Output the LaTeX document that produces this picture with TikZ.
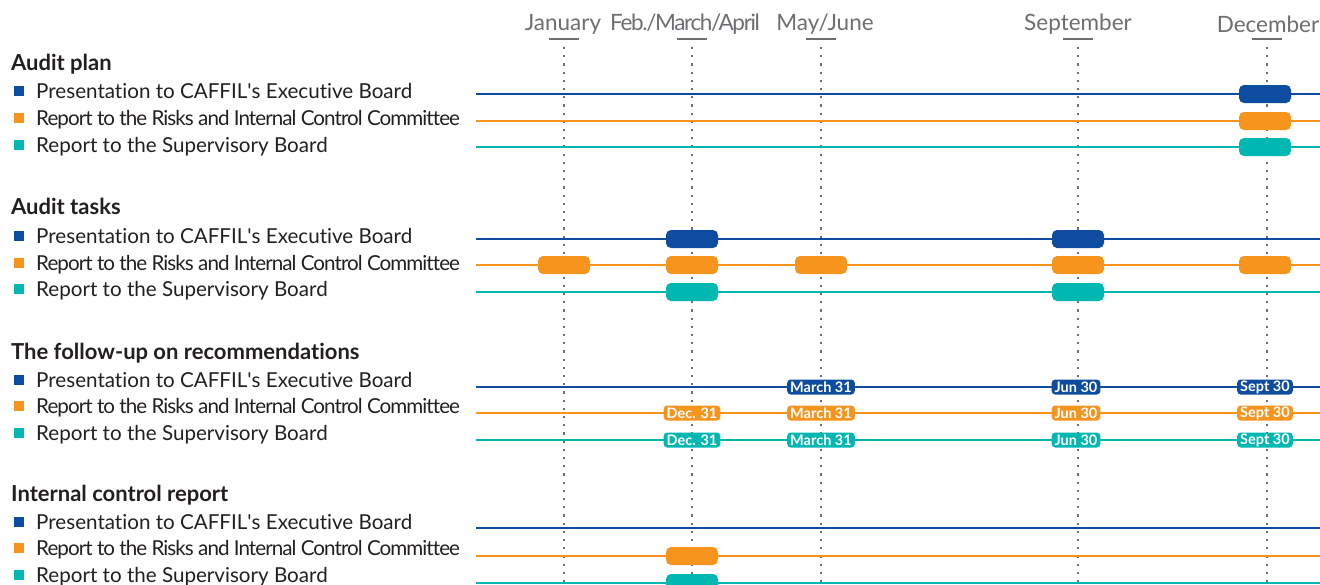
\documentclass[tikz,border=0pt]{standalone}
\usepackage{fontspec}
\setmainfont{Lato}[Ligatures={NoCommon}]
\definecolor{cblue}{HTML}{0D4C9E}
\definecolor{corange}{HTML}{F7941E}
\definecolor{cteal}{HTML}{00B7B2}
\definecolor{cgrid}{HTML}{6D6E71}
\definecolor{ctext}{HTML}{231F20}
\tikzset{
  month/.style={text=cgrid, font=\fontsize{22.5}{24}\selectfont, inner sep=0pt},
  tightmonth/.style={font=\fontsize{22.5}{24}\selectfont\addfontfeatures{LetterSpace=-6}},
  tickbar/.style={draw=cgrid, line width=1.8pt},
  guide/.style={draw=cgrid, line width=1.8pt, dash pattern=on 2.2pt off 6pt},
  heading/.style={text=ctext, font=\fontsize{22}{24}\selectfont\bfseries, anchor=base west, inner sep=0pt},
  legendtxt/.style={text=ctext, font=\fontsize{20.6}{22}\selectfont, anchor=base west, inner sep=0pt},
  tight/.style={font=\fontsize{20.6}{22}\selectfont\addfontfeatures{LetterSpace=-4.6}},
  legendsq/.style={fill=#1, minimum size=10pt, inner sep=0pt},
  track/.style={draw=#1, line width=2pt},
  pill/.style={fill=#1, minimum width=52pt, minimum height=18pt, rounded corners=5pt, inner sep=0pt},
  datepill/.style={fill=#1, text=white, rounded corners=3.5pt, minimum height=15pt, inner xsep=3pt, inner ysep=0pt,
    font=\fontsize{14.5}{14}\selectfont\bfseries}
}
\begin{document}
\begin{tikzpicture}[x=1pt,y=-1pt]
\clip (0,0) rectangle (1320,584);
\useasboundingbox (0,0) rectangle (1320,584);

% month headers, ticks and dotted guides
\node[month] (mJan) at (563,24) {January};
\node[month, tightmonth] (mFeb) at (685,24) {Feb./March/April};
\node[month] (mMay) at (825,24) {May/June};
\node[month] (mSep) at (1078,24) {September};
\node[month] (mDec) at (1268,24) {December};
\foreach \n/\x in {Jan/564, Feb/692, May/821, Sep/1078, Dec/1267}{
  \coordinate (t\n) at (\x,39);
  \coordinate (g\n) at (\x,47);
  \coordinate (e\n) at (\x,590);
  \draw[tickbar] ([xshift=-15pt]t\n) -- ([xshift=15pt]t\n);
  \draw[guide] (g\n) -- (e\n);
}

% section headings and legends
\foreach \s/\hy/\title in {1/70.5/Audit plan, 2/214.5/Audit tasks, 3/359.5/The follow-up on recommendations, 4/501.5/Internal control report}{
  \node[heading] (h\s) at (11,\hy) {\title};
}
\foreach \s/\ya/\yb/\yc in {1/91/118/145, 2/236/263/289, 3/380/406/433, 4/522/548/575}{
  \node[legendsq=cblue] (sq\s a) at (19,\ya) {};
  \node[legendsq=corange] (sq\s b) at (19,\yb) {};
  \node[legendsq=cteal] (sq\s c) at (19,\yc) {};
  \node[legendtxt] (lg\s a) at (36,\ya+7) {Presentation to CAFFIL\textquotesingle s Executive Board};
  \node[legendtxt, tight] (lg\s b) at (36,\yb+7) {Report to the Risks and Internal Control Committee};
  \node[legendtxt] (lg\s c) at (36,\yc+7) {Report to the Supervisory Board};
}

% horizontal tracks
\foreach \s/\ya/\yb/\yc in {1/94/121/147, 2/239/265/292, 3/387/413/440, 4/528/556/583}{
  \coordinate (s\s a) at (476,\ya); \coordinate (f\s a) at (1320,\ya);
  \coordinate (s\s b) at (476,\yb); \coordinate (f\s b) at (1320,\yb);
  \coordinate (s\s c) at (476,\yc); \coordinate (f\s c) at (1320,\yc);
  \draw[track=cblue] (s\s a) -- (f\s a);
  \draw[track=corange] (s\s b) -- (f\s b);
  \draw[track=cteal] (s\s c) -- (f\s c);
}

% audit plan
\node[pill=cblue] (p1a) at (1265,94) {};
\node[pill=corange] (p1b) at (1265,121) {};
\node[pill=cteal] (p1c) at (1265,147) {};

% audit tasks
\node[pill=cblue] (p2aFeb) at (692,239) {};
\node[pill=cblue] (p2aSep) at (1078,239) {};
\node[pill=corange] (p2bJan) at (564,265) {};
\node[pill=corange] (p2bFeb) at (692,265) {};
\node[pill=corange] (p2bMay) at (821,265) {};
\node[pill=corange] (p2bSep) at (1078,265) {};
\node[pill=corange] (p2bDec) at (1265,265) {};
\node[pill=cteal] (p2cFeb) at (692,292) {};
\node[pill=cteal] (p2cSep) at (1078,292) {};

% follow-up on recommendations
\node[datepill=cblue] (d3aMay) at (821,387) {March 31};
\node[datepill=cblue] (d3aSep) at (1076,387) {Jun 30};
\node[datepill=cblue] (d3aDec) at (1265,387) {Sept 30};
\foreach \r/\y/\c in {b/413/corange, c/440/cteal}{
  \node[datepill=\c] (d3\r Feb) at (692,\y) {Dec. 31};
  \node[datepill=\c] (d3\r May) at (821,\y) {March 31};
  \node[datepill=\c] (d3\r Sep) at (1076,\y) {Jun 30};
  \node[datepill=\c] (d3\r Dec) at (1265,\y) {Sept 30};
}

% internal control report
\node[pill=corange] (p4b) at (692,556) {};
\node[pill=cteal] (p4c) at (692,583) {};
\end{tikzpicture}
\end{document}
